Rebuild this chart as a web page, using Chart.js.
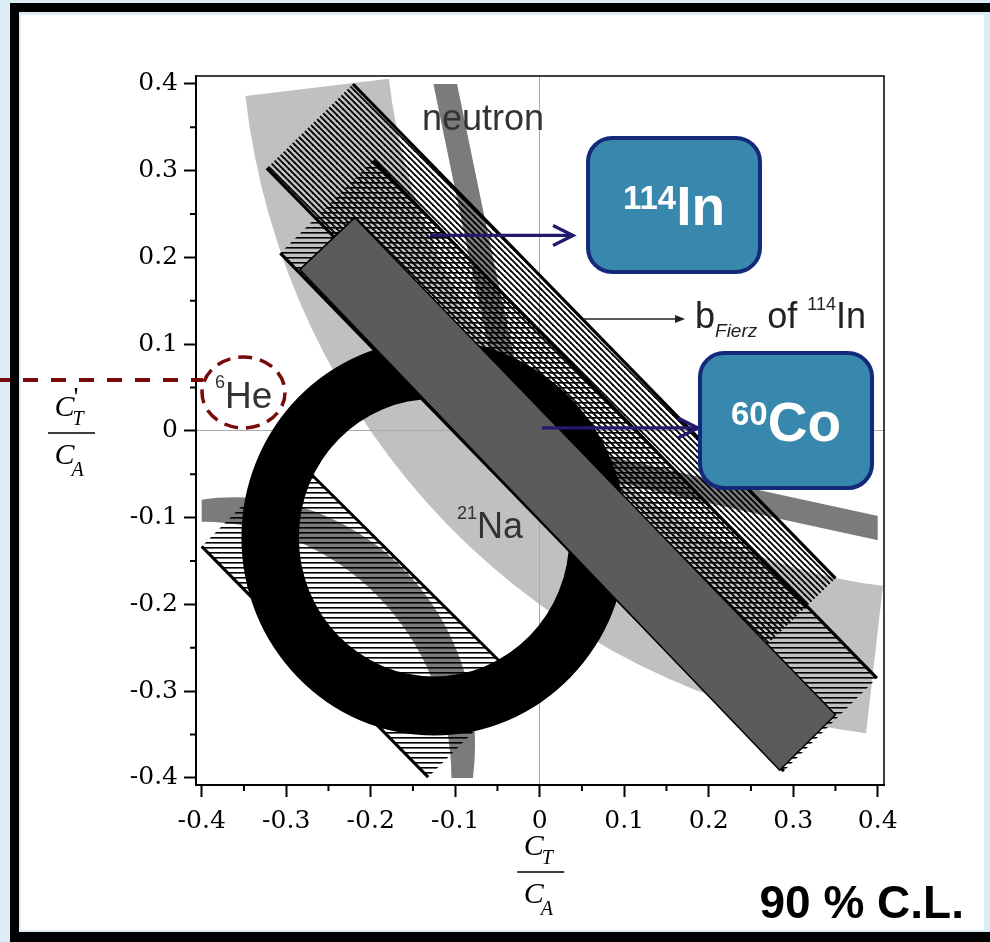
<!DOCTYPE html>
<html>
<head>
<meta charset="utf-8">
<title>C_T / C_A limits</title>
<script src="https://cdn.jsdelivr.net/npm/chart.js@4.4.1/dist/chart.umd.min.js"></script>
<style>
	html, body { margin: 0; padding: 0; }
	body { position: relative; width: 990px; height: 942px; overflow: hidden; background: #dcedf5; }
	#frame { position: absolute; left: 10px; top: 3px; width: 980px; height: 939px; background: #000; }
	#edge { position: absolute; left: 19px; top: 12px; width: 971px; height: 920px; background: #dcedf5; }
	#paper { position: absolute; left: 21px; top: 15px; width: 963px; height: 915px; background: #fff; }
	#chart { position: absolute; left: 0; top: 0; }
</style>
</head>
<body>
<div id="frame"></div>
<div id="edge"></div>
<div id="paper"></div>
<canvas id="chart" width="990" height="942"></canvas>
<script>
// ----- ----- -----
// data (C_T/C_A on x, C_T'/C_A on y)
// ----- ----- -----

const xTicks = [-0.4, -0.3, -0.2, -0.1, 0, 0.1, 0.2, 0.3, 0.4];
const xTickLabels = ['-0.4', '-0.3', '-0.2', '-0.1', '0', '0.1', '0.2', '0.3', '0.4'];
const yTicks = [-0.4, -0.3, -0.2, -0.1, 0, 0.1, 0.2, 0.3, 0.4];
const yTickLabels = ['-0.4', '-0.3', '-0.2', '-0.1', '0', '0.1', '0.2', '0.3', '0.4'];
const minorTicks = [-0.35, -0.25, -0.15, -0.05, 0.05, 0.15, 0.25, 0.35];

// straight bands, corner points
const bandCo60 = [{x: -0.219, y: 0.246}, {x: 0.350, y: -0.327}, {x: 0.284, y: -0.391}, {x: -0.284, y: 0.186}];
const bandInFierz = [{x: -0.221, y: 0.400}, {x: 0.350, y: -0.170}, {x: 0.248, y: -0.266}, {x: -0.323, y: 0.303}];
const bandInAsym = [{x: -0.197, y: 0.312}, {x: 0.399, y: -0.285}, {x: 0.289, y: -0.392}, {x: -0.307, y: 0.205}];
const bandLow = [{x: -0.293, y: -0.028}, {x: -0.021, y: -0.291}, {x: -0.132, y: -0.399}, {x: -0.400, y: -0.133}];

// neutron, upper branch: lower-left edge and upper-right edge
const neutronUpInner = [
	[-0.126, 0.401], [-0.100, 0.278], [-0.079, 0.180], [-0.059, 0.090], [-0.043, 0.026], [-0.022, -0.022],
	[0.026, -0.043], [0.090, -0.059], [0.180, -0.079], [0.278, -0.100], [0.401, -0.126]
];
const neutronUpOuter = [
	[-0.098, 0.401], [-0.072, 0.278], [-0.051, 0.180], [-0.031, 0.090], [-0.017, 0.034], [-0.002, -0.002],
	[0.034, -0.017], [0.090, -0.031], [0.180, -0.051], [0.278, -0.072], [0.401, -0.098]
];

// curved bands: centre, radii (and angles for 21Na)
const na21Center = [0.484, 0.484];
const na21Radii = [0.667, 0.838];
const na21Angles = [186.7, 263.3];
const neutronLowOuter = [-0.362, -0.362, 0.2855];
const neutronLowInner = [-0.400, -0.400, 0.2955];
const he6Center = [-0.125, -0.123];
const he6Radii = [0.160, 0.228];

// ----- ----- -----
// helpers
// ----- ----- -----

function toPx(chart, x, y) {
	return [chart.scales.x.getPixelForValue(x), chart.scales.y.getPixelForValue(y)];
}

function radPx(chart, rx, ry) {
	const xs = chart.scales.x, ys = chart.scales.y;
	return [Math.abs(xs.getPixelForValue(rx) - xs.getPixelForValue(0)),
		Math.abs(ys.getPixelForValue(ry === undefined ? rx : ry) - ys.getPixelForValue(0))];
}

function clipBox(chart) {
	const [x0, y0] = toPx(chart, -0.4, 0.4);
	const [x1, y1] = toPx(chart, 0.4, -0.4);
	chart.ctx.beginPath();
	chart.ctx.rect(x0, y0, x1 - x0, y1 - y0);
	chart.ctx.clip();
}

function ellipsePath(ctx, c, r) {
	ctx.moveTo(c[0] + r[0], c[1]);
	ctx.ellipse(c[0], c[1], r[0], r[1], 0, 0, 2 * Math.PI);
}

function makeHatch(kind) {
	const c = document.createElement('canvas');
	const g = c.getContext('2d');
	if (kind == 'diag') {
		c.width = 6; c.height = 6;
		g.strokeStyle = '#000';
		g.lineWidth = 1.8;
		[-6, 0, 6].forEach(o => {
			g.beginPath();
			g.moveTo(o - 1, -1);
			g.lineTo(o + 7, 7);
			g.stroke();
		});
	} else {
		c.width = 5; c.height = 5;
		g.fillStyle = '#000';
		g.fillRect(0, 2, 5, 1.6);
	}
	return g.createPattern(c, 'repeat');
}

function drawNa21(chart) {
	const ctx = chart.ctx;
	const c = toPx(chart, na21Center[0], na21Center[1]);
	const ri = radPx(chart, na21Radii[0]), ro = radPx(chart, na21Radii[1]);
	const a0 = -na21Angles[0] * Math.PI / 180, a1 = -na21Angles[1] * Math.PI / 180;
	ctx.save();
	ctx.beginPath();
	ctx.ellipse(c[0], c[1], ro[0], ro[1], 0, a0, a1, true);
	ctx.ellipse(c[0], c[1], ri[0], ri[1], 0, a1, a0, false);
	ctx.closePath();
	ctx.fillStyle = '#c0c0c0';
	ctx.fill();
	ctx.restore();
}

function drawStrip(chart, edgeA, edgeB, color) {
	const ctx = chart.ctx;
	const pts = edgeA.concat(edgeB.slice().reverse());
	ctx.save();
	clipBox(chart);
	ctx.beginPath();
	pts.forEach((p, i) => {
		const q = toPx(chart, p[0], p[1]);
		i ? ctx.lineTo(q[0], q[1]) : ctx.moveTo(q[0], q[1]);
	});
	ctx.closePath();
	ctx.fillStyle = color;
	ctx.fill();
	ctx.restore();
}

function drawRing(chart, center, radii, color) {
	const ctx = chart.ctx;
	const c = toPx(chart, center[0], center[1]);
	ctx.save();
	clipBox(chart);
	ctx.beginPath();
	ellipsePath(ctx, c, radPx(chart, radii[1]));
	ellipsePath(ctx, c, radPx(chart, radii[0]));
	ctx.fillStyle = color;
	ctx.fill('evenodd');
	ctx.restore();
}

function drawCrescent(chart, outer, inner, color) {
	const ctx = chart.ctx;
	const a = chart.chartArea;
	ctx.save();
	clipBox(chart);
	ctx.beginPath();
	ellipsePath(ctx, toPx(chart, outer[0], outer[1]), radPx(chart, outer[2]));
	ctx.clip();
	ctx.beginPath();
	ctx.rect(a.left, a.top, a.right - a.left, a.bottom - a.top);
	ellipsePath(ctx, toPx(chart, inner[0], inner[1]), radPx(chart, inner[2]));
	ctx.fillStyle = color;
	ctx.fill('evenodd');
	ctx.restore();
}

function arrowOpen(ctx, p0, p1, color) {
	ctx.save();
	ctx.strokeStyle = color;
	ctx.lineWidth = 3.3;
	ctx.beginPath();
	ctx.moveTo(p0[0], p0[1]);
	ctx.lineTo(p1[0], p1[1]);
	ctx.stroke();
	ctx.beginPath();
	ctx.moveTo(p1[0] - 20, p1[1] - 10);
	ctx.lineTo(p1[0], p1[1]);
	ctx.lineTo(p1[0] - 20, p1[1] + 10);
	ctx.stroke();
	ctx.restore();
}

function arrowSolid(ctx, p0, p1, color) {
	ctx.save();
	ctx.strokeStyle = color;
	ctx.fillStyle = color;
	ctx.lineWidth = 1.5;
	ctx.beginPath();
	ctx.moveTo(p0[0], p0[1]);
	ctx.lineTo(p1[0] - 6, p1[1]);
	ctx.stroke();
	ctx.beginPath();
	ctx.moveTo(p1[0], p1[1]);
	ctx.lineTo(p1[0] - 10, p1[1] - 4);
	ctx.lineTo(p1[0] - 10, p1[1] + 4);
	ctx.closePath();
	ctx.fill();
	ctx.restore();
}

function richText(ctx, p, color, parts) {
	let x = p[0];
	ctx.save();
	ctx.fillStyle = color;
	ctx.textAlign = 'left';
	ctx.textBaseline = 'alphabetic';
	parts.forEach(([t, font, dy]) => {
		ctx.font = font;
		ctx.fillText(t, x, p[1] + dy);
		x += ctx.measureText(t).width;
	});
	ctx.restore();
}

function isotopeBox(ctx, p0, p1, sup, main) {
	const w = p1[0] - p0[0], h = p1[1] - p0[1];
	const cx = p0[0] + w / 2, cy = p0[1] + h / 2;
	ctx.save();
	ctx.beginPath();
	if (ctx.roundRect) {
		ctx.roundRect(p0[0], p0[1], w, h, 24);
	} else {
		ctx.rect(p0[0], p0[1], w, h);
	}
	ctx.fillStyle = '#3887ad';
	ctx.fill();
	ctx.lineWidth = 4;
	ctx.strokeStyle = '#15297a';
	ctx.stroke();
	ctx.fillStyle = '#fff';
	ctx.textBaseline = 'alphabetic';
	ctx.font = 'bold 33px "Liberation Sans", Arial, sans-serif';
	const w1 = ctx.measureText(sup).width;
	ctx.font = 'bold 55px "Liberation Sans", Arial, sans-serif';
	const w2 = ctx.measureText(main).width;
	const sx = cx - (w1 + w2) / 2;
	ctx.fillText(main, sx + w1, cy + 20);
	ctx.font = 'bold 33px "Liberation Sans", Arial, sans-serif';
	ctx.fillText(sup, sx, cy + 4);
	ctx.restore();
}

function fraction(ctx, cx, barY, prime) {
	ctx.save();
	ctx.fillStyle = '#000';
	ctx.strokeStyle = '#000';
	ctx.textAlign = 'left';
	ctx.textBaseline = 'alphabetic';
	ctx.font = 'italic 30px "Liberation Serif", serif';
	ctx.fillText('C', cx - 17, barY - 17);
	ctx.fillText('C', cx - 17, barY + 31);
	ctx.font = 'italic 20px "Liberation Serif", serif';
	ctx.fillText('T', cx + 1, barY - 8);
	ctx.fillText('A', cx + 0, barY + 43);
	if (prime) {
		ctx.font = '28px "Liberation Serif", serif';
		ctx.fillText("'", cx + 2, barY - 27);
	}
	ctx.lineWidth = 1.5;
	ctx.beginPath();
	ctx.moveTo(cx - 23.5, barY);
	ctx.lineTo(cx + 23.5, barY);
	ctx.stroke();
	ctx.restore();
}

// ----- ----- -----
// plugin: curved bands, polygon fills, annotations
// ----- ----- -----

const shapes = {
	id: 'shapes',
	beforeDraw(chart) {
		drawNa21(chart);
	},
	beforeDatasetsDraw(chart) {
		drawStrip(chart, neutronUpInner, neutronUpOuter, '#7b7b7b');
		drawCrescent(chart, neutronLowOuter, neutronLowInner, '#7b7b7b');
		drawRing(chart, he6Center, he6Radii, '#000');
	},
	beforeDatasetDraw(chart, args) {
		const ds = chart.data.datasets[args.index];
		if (!ds.polyFill) return;
		const ctx = chart.ctx;
		const pts = args.meta.data;
		ctx.save();
		clipBox(chart);
		ctx.beginPath();
		pts.forEach((p, i) => i ? ctx.lineTo(p.x, p.y) : ctx.moveTo(p.x, p.y));
		ctx.closePath();
		ctx.fillStyle = ds.polyFill;
		ctx.fill();
		ctx.restore();
	},
	afterDraw(chart) {
		const ctx = chart.ctx;
		const a = chart.chartArea;
		const xs = chart.scales.x, ys = chart.scales.y;
		const P = (x, y) => toPx(chart, x, y);

		// minor ticks
		ctx.save();
		ctx.strokeStyle = '#000';
		ctx.lineWidth = 2;
		minorTicks.forEach(v => {
			const px = xs.getPixelForValue(v), py = ys.getPixelForValue(v);
			ctx.beginPath();
			ctx.moveTo(px, a.bottom);
			ctx.lineTo(px, a.bottom + 6);
			ctx.moveTo(a.left - 6, py);
			ctx.lineTo(a.left, py);
			ctx.stroke();
		});
		// top and right frame
		ctx.lineWidth = 1.5;
		ctx.beginPath();
		ctx.moveTo(a.left, a.top);
		ctx.lineTo(a.right, a.top);
		ctx.lineTo(a.right, a.bottom);
		ctx.stroke();
		ctx.restore();

		// labels inside the plot
		richText(ctx, P(-0.1393, 0.347), '#333', [['neutron', '36px "Liberation Sans", Arial, sans-serif', 0]]);
		richText(ctx, P(-0.0979, -0.1233), '#333', [
			['21', '18px "Liberation Sans", Arial, sans-serif', -19],
			['Na', '36px "Liberation Sans", Arial, sans-serif', 0]
		]);
		richText(ctx, P(-0.3843, 0.0265), '#333', [
			['6', '18px "Liberation Sans", Arial, sans-serif', -20],
			['He', '37px "Liberation Sans", Arial, sans-serif', 0]
		]);
		richText(ctx, P(0.1838, 0.1187), '#222', [
			['b', '36px "Liberation Sans", Arial, sans-serif', 0],
			['Fierz', 'italic 19px "Liberation Sans", Arial, sans-serif', 9],
			[' of ', '36px "Liberation Sans", Arial, sans-serif', 0],
			['114', '18px "Liberation Sans", Arial, sans-serif', -18],
			['In', '36px "Liberation Sans", Arial, sans-serif', 0]
		]);

		// arrows and isotope boxes
		arrowSolid(ctx, P(0.0512, 0.1291), P(0.172, 0.1291), '#222');
		arrowOpen(ctx, P(-0.1298, 0.2254), P(0.0394, 0.2254), '#231a6e');
		arrowOpen(ctx, P(0.0027, 0.0035), P(0.1873, 0.0035), '#231a6e');
		isotopeBox(ctx, P(0.0572, 0.3378), P(0.2607, 0.1833), '114', 'In');
		isotopeBox(ctx, P(0.1897, 0.0899), P(0.3933, -0.0657), '60', 'Co');

		// 6He marker: dashed circle and dashed line
		ctx.save();
		ctx.strokeStyle = '#780a0a';
		ctx.lineWidth = 3.5;
		ctx.setLineDash([14, 8]);
		const hc = P(-0.3505, 0.0444);
		const hr = radPx(chart, 0.0491, 0.0409);
		ctx.beginPath();
		ctx.ellipse(hc[0], hc[1], hr[0], hr[1], 0, 0, 2 * Math.PI);
		ctx.stroke();
		ctx.lineWidth = 4;
		ctx.setLineDash([15, 13]);
		const d0 = P(-0.6446, 0.0588), d1 = P(-0.3985, 0.0588);
		ctx.beginPath();
		ctx.moveTo(d0[0], d0[1]);
		ctx.lineTo(d1[0], d1[1]);
		ctx.stroke();
		ctx.restore();

		// axis titles
		fraction(ctx, 71.5, ys.getPixelForValue(0) + 2, true);
		fraction(ctx, xs.getPixelForValue(0) + 1, 872, false);

		// confidence level
		ctx.save();
		ctx.fillStyle = '#000';
		ctx.font = 'bold 46px "Liberation Sans", Arial, sans-serif';
		ctx.textAlign = 'right';
		ctx.textBaseline = 'alphabetic';
		ctx.fillText('90 % C.L.', 964, 918);
		ctx.restore();
	}
};

// ----- ----- -----
// chart js
// ----- ----- -----

Chart.defaults.font.family = '"DejaVu Serif", serif';

const hatchDiag = makeHatch('diag');
const hatchFlat = makeHatch('flat');

function closed(pts) {
	return pts.concat([pts[0]]);
}

function outlineEdges(edges) {
	return {
		borderColor: c => edges.includes(c.p0DataIndex) ? '#000' : 'rgba(0,0,0,0)'
	};
}

const zeroLine = c => (c.tick && c.tick.value === 0 ? '#aaaaaa' : 'rgba(0,0,0,0)');

const chart = new Chart('chart', {
	type: 'scatter',
	data: {
		datasets: [{
			label: '60Co',
			data: closed(bandCo60),
			polyFill: '#5b5b5b',
			borderColor: '#000',
			borderWidth: 1.5,
			order: 0
		}, {
			label: 'b Fierz 114In',
			data: closed(bandInFierz),
			polyFill: hatchDiag,
			borderColor: '#000',
			borderWidth: 3.2,
			segment: outlineEdges([0, 2]),
			order: 1
		}, {
			label: '114In',
			data: closed(bandInAsym),
			polyFill: hatchFlat,
			borderColor: '#000',
			borderWidth: 3.2,
			segment: outlineEdges([0, 2]),
			order: 2
		}, {
			label: 'lower band',
			data: closed(bandLow),
			polyFill: hatchFlat,
			borderColor: '#000',
			borderWidth: 3,
			segment: outlineEdges([0, 2]),
			order: 3
		}]
	},
	options: {
		responsive: false,
		animation: false,
		events: [],
		showLine: true,
		layout: {
			padding: {left: 100, top: 76, right: 106, bottom: 107}
		},
		elements: {
			point: {radius: 0},
			line: {tension: 0, fill: false, borderJoinStyle: 'miter'}
		},
		plugins: {
			legend: {display: false},
			tooltip: {enabled: false}
		},
		scales: {
			x: {
				type: 'linear',
				min: -0.40675,
				max: 0.40746,
				afterBuildTicks: s => { s.ticks = xTicks.map(v => ({value: v})); },
				afterFit: s => { s.height = 50; },
				ticks: {
					callback: (v, i) => xTickLabels[i],
					font: {size: 25},
					color: '#000',
					padding: 9,
					maxRotation: 0,
					autoSkip: false
				},
				grid: {color: zeroLine, lineWidth: 1, tickColor: '#000', tickLength: 12, tickWidth: 2},
				border: {color: '#000', width: 2}
			},
			y: {
				type: 'linear',
				min: -0.40807,
				max: 0.40922,
				afterBuildTicks: s => { s.ticks = yTicks.map(v => ({value: v})); },
				afterFit: s => { s.width = 96; },
				ticks: {
					callback: (v, i) => yTickLabels[i],
					font: {size: 25},
					color: '#000',
					padding: 6,
					autoSkip: false
				},
				grid: {color: zeroLine, lineWidth: 1, tickColor: '#000', tickLength: 12, tickWidth: 2},
				border: {color: '#000', width: 2}
			}
		}
	},
	plugins: [shapes]
});
</script>
</body>
</html>
